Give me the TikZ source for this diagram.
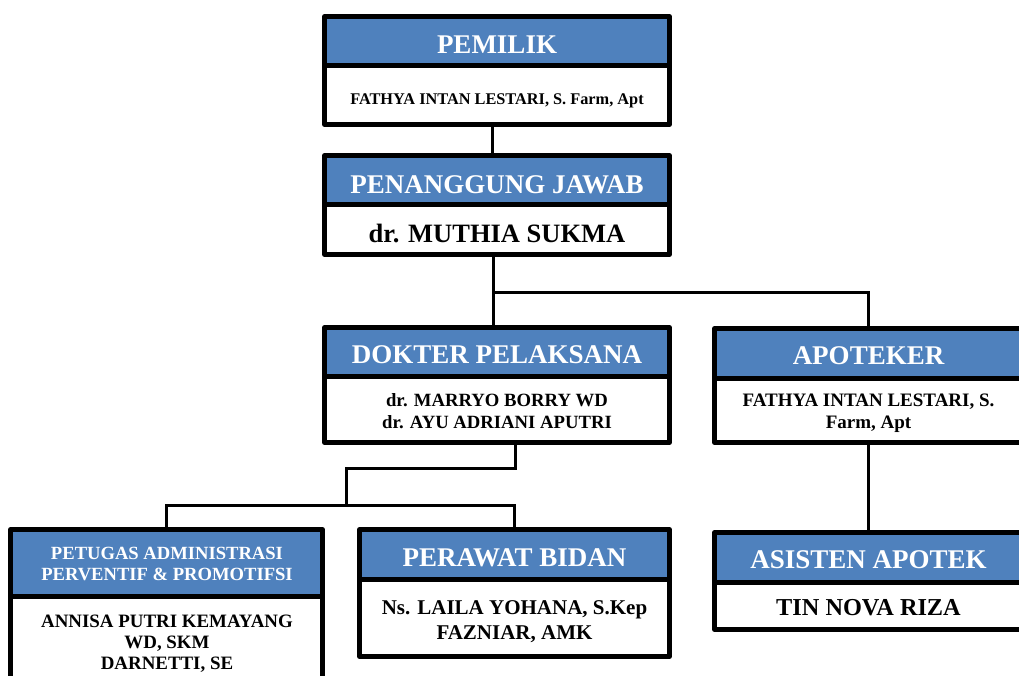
\documentclass[tikz,border=0pt]{standalone}
\usepackage{fontspec}
\setmainfont{Liberation Serif}
\definecolor{hdrblue}{RGB}{79,129,189}
\begin{document}
\begin{tikzpicture}[x=1pt,y=-1pt,
  boxbase/.style={draw=black, line width=4.5pt, line join=round, outer sep=0pt, inner sep=0pt, anchor=north west},
  hdr/.style={boxbase, fill=hdrblue},
  bdy/.style={boxbase, fill=white},
  conn/.style={draw=black, line width=3pt},
  txt/.style={anchor=base, inner sep=0pt, font=\bfseries\fontsize{#1}{#1}\selectfont},
  ttl/.style={txt=#1, text=white},
  ttl/.default=27,
  nm/.style={txt=#1, text=black}]
\clip (0,0) rectangle (1019,675);
\fill[white] (0,0) rectangle (1019,675);

% boxes
\node[hdr, minimum width=345pt, minimum height=49pt] (pemH) at (324.5,16.5) {};
\node[bdy, minimum width=345pt, minimum height=59pt] (pemB) at (324.5,65.5) {};
\node[hdr, minimum width=345pt, minimum height=49pt] (pjH) at (324.5,155.5) {};
\node[bdy, minimum width=345pt, minimum height=50pt] (pjB) at (324.5,204.5) {};
\node[hdr, minimum width=345pt, minimum height=49pt] (dokH) at (324.5,327.5) {};
\node[bdy, minimum width=345pt, minimum height=66pt] (dokB) at (324.5,376.5) {};
\node[hdr, minimum width=307.5pt, minimum height=50pt] (apoH) at (714.5,328.5) {};
\node[bdy, minimum width=307.5pt, minimum height=64pt] (apoB) at (714.5,378.5) {};
\node[hdr, minimum width=307.5pt, minimum height=50pt] (asiH) at (714.5,532.5) {};
\node[bdy, minimum width=307.5pt, minimum height=47pt] (asiB) at (714.5,582.5) {};
\node[hdr, minimum width=312pt, minimum height=67pt] (petH) at (10.5,529.5) {};
\node[bdy, minimum width=312pt, minimum height=120pt] (petB) at (10.5,596.5) {};
\node[hdr, minimum width=310pt, minimum height=50pt] (perH) at (359.5,529.5) {};
\node[bdy, minimum width=310pt, minimum height=77pt] (perB) at (359.5,579.5) {};

% connectors
\coordinate (j1) at (493,292);
\coordinate (j2) at (346,468);
\coordinate (j3) at (346,505);
\draw[conn] ([xshift=-5pt]pemB.south) -- ([xshift=-5pt]pjH.north);
\draw[conn] ([xshift=-4pt]pjB.south) -- ([xshift=-4pt]dokH.north);
\draw[conn] (j1) -| (apoH.north);
\draw[conn] ([xshift=18pt]dokB.south) |- (j2) -- (j3);
\draw[conn] (petH.north) |- (j3) -| (perH.north);
\draw[conn] (apoB.south) -- (asiH.north);

% texts
\node[ttl] (pemT) at (497,53) {PEMILIK};
\node[nm=16.3] (pemN) at (497,104) {FATHYA INTAN LESTARI, S. Farm, Apt};
\node[ttl] (pjT) at (497,193) {PENANGGUNG JAWAB};
\node[nm=26.5] (pjN) at (497,242) {dr. MUTHIA SUKMA};
\node[ttl] (dokT) at (497,363) {DOKTER PELAKSANA};
\node[nm=18.7] (dokN1) at (497,406.5) {dr. MARRYO BORRY WD};
\node[nm=18.7] (dokN2) at (497,428.5) {dr. AYU ADRIANI APUTRI};
\node[ttl] (apoT) at (868.5,364) {APOTEKER};
\node[nm=19] (apoN1) at (868.5,406) {FATHYA INTAN LESTARI, S.};
\node[nm=19] (apoN2) at (868.5,428) {Farm, Apt};
\node[ttl] (asiT) at (868.5,568) {ASISTEN APOTEK};
\node[nm=24.3] (asiN) at (868.5,615) {TIN NOVA RIZA};
\node[ttl=18.6] (petT1) at (167,559) {PETUGAS ADMINISTRASI};
\node[ttl=18.6] (petT2) at (167,580) {PERVENTIF \& PROMOTIFSI};
\node[nm=18.9] (petN1) at (167,627) {ANNISA PUTRI KEMAYANG};
\node[nm=18.9] (petN2) at (167,648) {WD, SKM};
\node[nm=18.9] (petN3) at (167,669) {DARNETTI, SE};
\node[ttl] (perT) at (514.5,566) {PERAWAT BIDAN};
\node[nm=21] (perN1) at (514.5,614) {Ns. LAILA YOHANA, S.Kep};
\node[nm=21] (perN2) at (514.5,639) {FAZNIAR, AMK};
\end{tikzpicture}
\end{document}
